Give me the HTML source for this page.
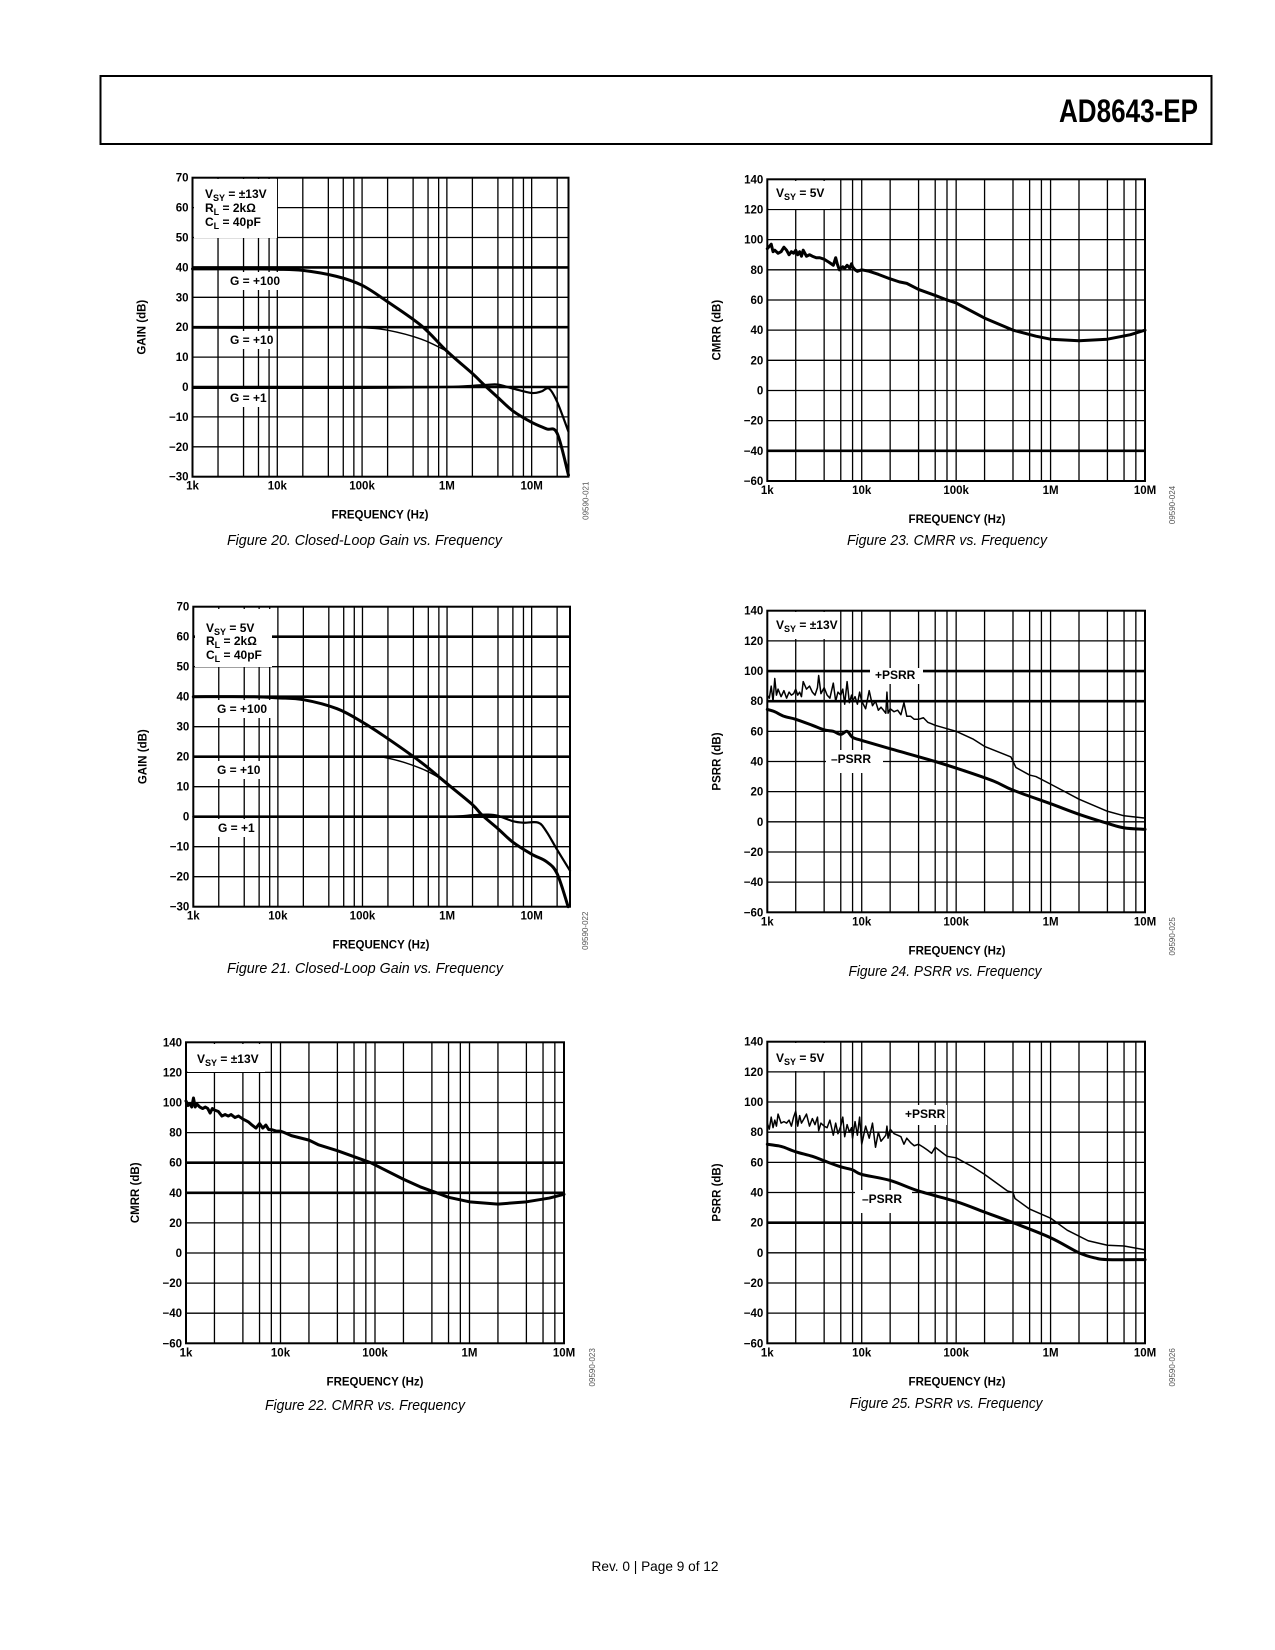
<!DOCTYPE html>
<html><head><meta charset="utf-8">
<style>
html,body{margin:0;padding:0;background:#fff;}
svg{display:block;}
text{font-family:"Liberation Sans",sans-serif;fill:#000;}
.tk{font-size:11.5px;font-weight:bold;}
.ax{font-size:11.5px;font-weight:bold;}
.cap{font-size:15px;font-style:italic;}
.lg{font-size:12px;font-weight:bold;}
</style></head>
<body>
<svg id="page" width="1275" height="1650" viewBox="0 0 1275 1650" xmlns="http://www.w3.org/2000/svg">
<rect x="100.5" y="76" width="1111" height="68" fill="none" stroke="#000" stroke-width="2"/>
<text x="1198" y="122" text-anchor="end" textLength="139" lengthAdjust="spacingAndGlyphs" style="font-family:'Liberation Sans Narrow','Liberation Sans',sans-serif;font-weight:bold;font-size:32px">AD8643-EP</text>
<text x="655" y="1571" text-anchor="middle" style="font-size:14px" textLength="127" lengthAdjust="spacingAndGlyphs">Rev. 0 | Page 9 of 12</text>
<g id="charts"></g>
</svg>
<script>
// ---------- Figure 20 data (Vsy = ±13V) ----------
const f20_g100 = [1e3,5e3,1e4,2e4,5e4,1e5,2e5,5e5,1e6,2e6,2.8e6,4e6,6e6,1e7,1.5e7,2e7,2.72e7];
const v20_g100 = [39.5,39.5,39.4,39,37,34,28.5,20.5,12,4.5,0.5,-3.5,-8,-11.8,-14,-15.5,-29.5];
const f20_g10 = [1e3,1e4,5e4,1e5,2e5,5e5,1e6];
const v20_g10 = [19.7,19.7,19.8,19.8,19,16,12];
const f20_g1 = [1e3,1e4,1e5,1e6,2e6,3e6,4e6,6e6,1e7,1.3e7,1.6e7,2e7,2.72e7];
const v20_g1 = [-0.3,-0.3,-0.3,0,0.4,0.7,0.8,-0.5,-2,-1.5,-0.5,-5,-15];
// ---------- Figure 21 data (Vsy = 5V) ----------
const f21_g100 = [1e3,5e3,1e4,2e4,5e4,1e5,2e5,5e5,1e6,2e6,2.6e6,4e6,6e6,1e7,1.5e7,2e7,2.7e7];
const v21_g100 = [40,40,39.6,39,36,31.5,26,18,11,4,0.5,-4,-8.5,-12.5,-15,-19,-30];
const f21_g10 = [1e3,1e4,1e5,2e5,5e5,1e6];
const v21_g10 = [20,20,20,19.5,16,11.5];
const f21_g1 = [1e3,1e4,1e5,1e6,2e6,3e6,4e6,6e6,8e6,1.2e7,1.5e7,2e7,2.84e7];
const v21_g1 = [0,0,0,0,0.5,0.7,0.3,-1.5,-2,-2,-5,-11,-18];
// ---------- Figure 22 data (CMRR, ±13V) ----------
const f22 = [1000,1050,1100,1150,1200,1250,1300,1400,1500,1600,1700,1800,1900,2000,2200,2400,2600,2800,3000,3300,3600,4000,4300,4600,5000,5500,6000,6500,7000,7500,8000,9000,10000,11000,12000,13000,15000,20000,25000,40000,60000,90000,120000,200000,300000,450000,600000,1e6,2e6,4e6,7e6,1e7];
const v22 = [101,98,99,97,103,97,99,97,96,97,96,93,96,95,94,91,92,91,92,90,91,89,88,87,85,83,86,83,85,82,82,81,81,80,79,78,77,75,72,68,64,60,56,49,44,40,37,34,32.5,34,36.5,39];
// ---------- Figure 23 data (CMRR, 5V) ----------
const f23 = [1000,1100,1150,1200,1300,1400,1500,1600,1700,1800,1900,2000,2100,2200,2300,2400,2600,2800,3000,3300,3600,4000,4500,5000,5300,5500,5800,6000,6300,6600,7000,7500,7800,8000,8500,9000,10000,12000,15000,20000,25000,30000,40000,60000,80000,100000,200000,400000,700000,1e6,2e6,4e6,7e6,1e7];
const v23 = [94,97,92,93,91,92,95,93,90,92,91,93,90,92,89,93,89,90,89,88,88,87,85,83,88,84,80,81,82,81,83,81,84,82,80,79,80,79,77,74,72,71,67,63,60,58,48,40,36,34,33,34,37,40];
// ---------- Figure 24 data (PSRR, ±13V) ----------
const f24_pos = [1000,1050,1100,1150,1200,1250,1300,1400,1500,1600,1700,1800,1900,2000,2100,2200,2300,2400,2600,2800,3000,3200,3400,3500,3700,4000,4300,4600,5000,5300,5600,6000,6300,6600,7000,7400,7800,8000,8500,9000,9500,10000,11000,12000,13000,14000,15000,16000,17000,18000,18500,19000,20000,22000,24000,26000,28000,30000,33000,36000,40000,45000,50000,55000,60000,100000,150000,200000,380000,430000,600000,700000,1e6,2e6,4e6,6e6,1e7];
const v24_pos = [84,82,90,80,95,84,88,83,87,82,86,84,85,88,84,86,83,93,88,90,86,84,89,97,85,89,84,82,92,80,86,84,88,78,93,79,84,80,83,78,86,80,75,87,77,80,74,76,74,72,86,72,75,73,74,71,79,70,70,68,68,69,66,65,64,60,55,50,43,36,31,30,25,15,7,4,2.5];
const f24_neg = [1000,1200,1500,2000,3000,4000,5000,6000,7000,8000,10000,20000,60000,120000,250000,400000,1e6,2e6,4e6,6e6,1e7];
const v24_neg = [74.5,73,70,68,64,61,60,58,60,56,54,48.5,40,34,27,21,12,5,-1,-4,-5];
// ---------- Figure 25 data (PSRR, 5V) ----------
const f25_pos = [1000,1050,1100,1150,1200,1250,1300,1400,1500,1600,1700,1800,1900,2000,2100,2200,2300,2400,2600,2800,3000,3200,3400,3500,3700,4000,4300,4600,5000,5300,5600,6000,6300,6600,7000,7400,7800,8000,8500,9000,9500,10000,11000,12000,13000,14000,15000,16000,17000,18000,18500,19000,20000,22000,24000,26000,28000,30000,33000,36000,40000,45000,50000,55000,60000,80000,100000,150000,200000,350000,400000,420000,600000,1e6,1.5e6,2.5e6,4e6,6e6,1e7];
const v25_pos = [86,82,90,83,88,84,92,86,87,86,88,84,90,94,84,91,86,88,92,84,89,85,90,81,86,84,83,88,78,86,79,84,90,77,85,80,83,76,87,78,90,72,84,76,86,70,80,74,76,78,84,76,82,79,78,77,72,76,73,71,72,70,68,66,70,64,63,57,52,41,40,36,29,23,15,8,5,4.5,2];
const f25_neg = [1000,1300,1500,2000,3000,4000,6000,8000,10000,20000,40000,100000,200000,400000,1e6,2e6,3e6,4e6,1e7];
const v25_neg = [72,71,70,67,64,61,57,55,52,48,41,34,27,20,10,0,-3.5,-4.5,-4.5];

const xTickVals = [1e3,1e4,1e5,1e6,1e7];
const xTickLabels = ['1k','10k','100k','1M','10M'];
const gainTicks = [70,60,50,40,30,20,10,0,-10,-20,-30];
const rrTicks = [140,120,100,80,60,40,20,0,-20,-40,-60];
const gridMultipliers = [2,4,6,8,10];

const NS='http://www.w3.org/2000/svg';
const root=document.getElementById('charts');
function mk(tag,attrs,parent){const e=document.createElementNS(NS,tag);for(const k in attrs)e.setAttribute(k,attrs[k]);(parent||root).appendChild(e);return e;}
function fmtTick(v){return v<0?'\u2212'+(-v):String(v);}

function chart(c){
  const g=mk('g',{});
  
  
  const lmin=3,lmax=Math.log10(c.fmax);
  const X=f=>c.L+(Math.log10(f)-lmin)/(lmax-lmin)*(c.R-c.L);
  const ymax=c.ticks[0],ymin=c.ticks[c.ticks.length-1];
  const Y=v=>c.T+(ymax-v)/(ymax-ymin)*(c.B-c.T);
  for(let d=1e3;d<=c.fmax;d*=10){
    gridMultipliers.forEach(m=>{const f=d*m;if(f>c.fmax*0.999)return;
      const x=X(f);const l=mk('line',{x1:x,x2:x,y1:c.T,y2:c.B,stroke:'#000','stroke-width':1.3},g);
      
      });
  }
  c.ticks.forEach(v=>{const y=Y(v);const thick=c.thick.includes(v);
    const l=mk('line',{x1:c.L,x2:c.R,y1:y,y2:y,stroke:'#000','stroke-width':thick?2.6:1.3},g);
    
    
    const t=mk('text',{x:c.L-4,y:y+4,'text-anchor':'end',class:'tk'},g);t.textContent=fmtTick(v);
    
    
  });
  xTickVals.forEach((f,i)=>{if(f>c.fmax*1.001)return;const t=mk('text',{x:X(f),y:c.B+13,'text-anchor':'middle',class:'tk'},g);t.textContent=xTickLabels[i];
    
    });
  c.boxes.forEach(b=>{const r=mk('rect',{x:b[0],y:b[1],width:b[2],height:b[3],fill:'#fff'},g);
    
    });
  c.series.forEach(s=>{
    const pts=s.f.map((f,i)=>[X(f),Y(s.v[i])]);
    let d='M'+pts[0][0].toFixed(2)+','+pts[0][1].toFixed(2);
    if(s.smooth){
      for(let i=0;i<pts.length-1;i++){const p0=pts[Math.max(0,i-1)],p1=pts[i],p2=pts[i+1],p3=pts[Math.min(pts.length-1,i+2)];
        const c1=[p1[0]+(p2[0]-p0[0])/6,p1[1]+(p2[1]-p0[1])/6],c2=[p2[0]-(p3[0]-p1[0])/6,p2[1]-(p3[1]-p1[1])/6];
        d+=' C'+c1[0].toFixed(2)+','+c1[1].toFixed(2)+' '+c2[0].toFixed(2)+','+c2[1].toFixed(2)+' '+p2[0].toFixed(2)+','+p2[1].toFixed(2);}
    } else { for(let i=1;i<pts.length;i++)d+=' L'+pts[i][0].toFixed(2)+','+pts[i][1].toFixed(2); }
    const p=mk('path',{d:d,fill:'none',stroke:'#000','stroke-width':s.w,'stroke-linejoin':'round','stroke-linecap':'round'},g);
    
    
  });
  const fr=mk('rect',{x:c.L,y:c.T,width:c.R-c.L,height:c.B-c.T,fill:'none',stroke:'#000','stroke-width':2},g);
  
  
  c.labels.forEach(lb=>{const t=mk('text',{x:lb.x,y:lb.y,class:'lg'},g);t.innerHTML=lb.html;
    
    });
  const mid=(c.T+c.B)/2;
  const yt=mk('text',{x:c.L-47,y:mid,'text-anchor':'middle',class:'ax',transform:'rotate(-90 '+(c.L-47)+' '+mid+')'},g);yt.textContent=c.ytitle;
  
  
  const xt=mk('text',{x:c.xtx,y:c.B+42,'text-anchor':'middle',class:'ax','xml:space':'preserve'},g);xt.textContent='FREQUENCY  (Hz)';
  
  
  const cp=mk('text',{x:c.capx,y:c.capy+5,'text-anchor':'middle',class:'cap',textLength:c.capw,lengthAdjust:'spacingAndGlyphs'},g);cp.textContent=c.caption;
  
  
  const ix=c.R+c.idoff, iy=c.B+24;
  const id=mk('text',{x:ix,y:iy,'text-anchor':'middle',transform:'rotate(-90 '+ix+' '+iy+')',style:'font-size:8px;fill:#555'},g);id.textContent=c.id;
  
  
}
const VS=(x,y,val)=>({x:x,y:y,name:'supply-voltage-label',html:'V<tspan dy="3" font-size="9">SY</tspan><tspan dy="-3"> = '+val+'</tspan>'});
const RL=(x,y)=>({x:x,y:y,name:'load-resistance-label',html:'R<tspan dy="3" font-size="9">L</tspan><tspan dy="-3"> = 2k\u03A9</tspan>'});
const CL=(x,y)=>({x:x,y:y,name:'load-capacitance-label',html:'C<tspan dy="3" font-size="9">L</tspan><tspan dy="-3"> = 40pF</tspan>'});

chart({name:'figure-20-chart',L:192.5,R:568.5,T:177.7,B:476.7,fmax:2.72e7,ticks:gainTicks,thick:[40,20,0],ytitle:'GAIN (dB)',xtx:380,capx:364.5,capy:540,capw:275,caption:'Figure 20. Closed-Loop Gain vs. Frequency',id:'09590-021',idoff:20,
 boxes:[[194,179,83,59],[224,272,58,18],[224,331,50,18],[224,389,42,18]],
 series:[{name:'gain-g100',f:f20_g100,v:v20_g100,w:3,smooth:true},{name:'gain-g10',f:f20_g10,v:v20_g10,w:1.4,smooth:true},{name:'gain-g1',f:f20_g1,v:v20_g1,w:2.2,smooth:true}],
 labels:[VS(205,198,'\u00B113V'),RL(205,212),CL(205,226),{x:230,y:285,name:'g100-label',html:'G = +100'},{x:230,y:344,name:'g10-label',html:'G = +10'},{x:230,y:402,name:'g1-label',html:'G = +1'}]});
chart({name:'figure-21-chart',L:193.3,R:570,T:606.7,B:906.7,fmax:2.84e7,ticks:gainTicks,thick:[60,40,20,0],ytitle:'GAIN (dB)',xtx:381,capx:365,capy:968,capw:276,caption:'Figure 21. Closed-Loop Gain vs. Frequency',id:'09590-022',idoff:18,
 boxes:[[195,609,77,58],[212,700,60,18],[212,761,52,18],[212,819,45,18]],
 series:[{name:'gain-g100',f:f21_g100,v:v21_g100,w:3,smooth:true},{name:'gain-g10',f:f21_g10,v:v21_g10,w:1.4,smooth:true},{name:'gain-g1',f:f21_g1,v:v21_g1,w:2.2,smooth:true}],
 labels:[VS(206,632,'5V'),RL(206,645),CL(206,659),{x:217,y:713,name:'g100-label',html:'G = +100'},{x:217,y:774,name:'g10-label',html:'G = +10'},{x:218,y:832,name:'g1-label',html:'G = +1'}]});
chart({name:'figure-22-chart',L:186,R:564,T:1042.3,B:1343.3,fmax:1e7,ticks:rrTicks,thick:[60,40],ytitle:'CMRR (dB)',xtx:375,capx:365,capy:1405,capw:200,caption:'Figure 22. CMRR vs. Frequency',id:'09590-023',idoff:31,
 boxes:[[188,1044,77,28]],
 series:[{name:'cmrr-curve',f:f22,v:v22,w:3,smooth:false}],
 labels:[VS(197,1063,'\u00B113V')]});
chart({name:'figure-23-chart',L:767.3,R:1145,T:179.3,B:481,fmax:1e7,ticks:rrTicks,thick:[-40],ytitle:'CMRR (dB)',xtx:957,capx:947,capy:540,capw:200,caption:'Figure 23. CMRR vs. Frequency',id:'09590-024',idoff:30,
 boxes:[[769,181,61,28]],
 series:[{name:'cmrr-curve',f:f23,v:v23,w:3,smooth:false}],
 labels:[VS(776,197,'5V')]});
chart({name:'figure-24-chart',L:767.3,R:1145,T:610.7,B:912.3,fmax:1e7,ticks:rrTicks,thick:[100,80],ytitle:'PSRR (dB)',xtx:957,capx:945,capy:971,capw:193,caption:'Figure 24. PSRR vs. Frequency',id:'09590-025',idoff:30,
 boxes:[[769,612,71,27],[870,668,53,16],[826,750,57,23]],
 series:[{name:'positive-psrr',f:f24_pos,v:v24_pos,w:1.5,smooth:false},{name:'negative-psrr',f:f24_neg,v:v24_neg,w:3,smooth:true}],
 labels:[VS(776,629,'\u00B113V'),{x:875,y:679,name:'positive-psrr-label',html:'+PSRR'},{x:831,y:763,name:'negative-psrr-label',html:'\u2013PSRR'}]});
chart({name:'figure-25-chart',L:767.3,R:1145,T:1041.7,B:1343.3,fmax:1e7,ticks:rrTicks,thick:[20],ytitle:'PSRR (dB)',xtx:957,capx:946,capy:1403,capw:193,caption:'Figure 25. PSRR vs. Frequency',id:'09590-026',idoff:30,
 boxes:[[769,1043,61,28],[900,1105,47,20],[855,1190,57,23]],
 series:[{name:'positive-psrr',f:f25_pos,v:v25_pos,w:1.5,smooth:false},{name:'negative-psrr',f:f25_neg,v:v25_neg,w:3,smooth:true}],
 labels:[VS(776,1062,'5V'),{x:905,y:1118,name:'positive-psrr-label',html:'+PSRR'},{x:862,y:1203,name:'negative-psrr-label',html:'\u2013PSRR'}]});
</script>
</body></html>
